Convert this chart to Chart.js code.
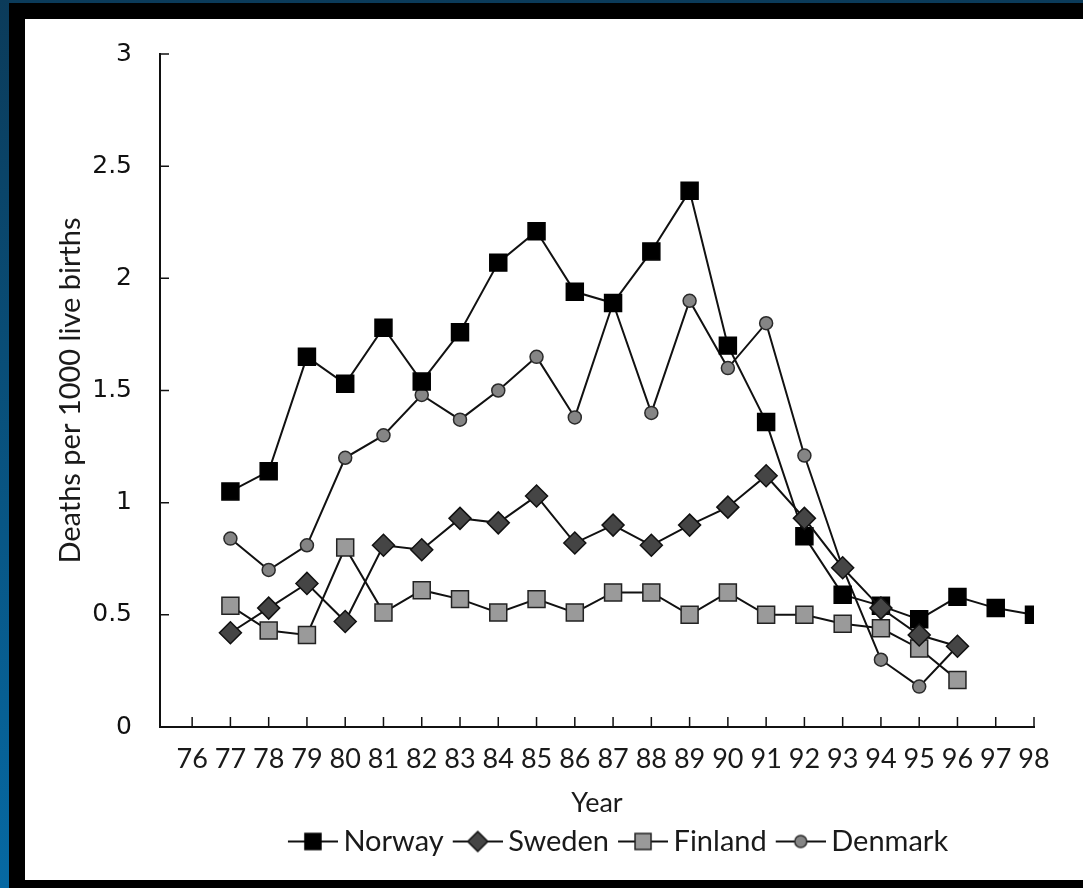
<!DOCTYPE html>
<html lang="en">
<head>
<meta charset="UTF-8">
<title>Deaths per 1000 live births</title>
<style>
  html, body { margin: 0; padding: 0; }
  body { width: 1083px; height: 888px; position: relative; overflow: hidden;
         background: linear-gradient(#0b3b5a, #0669a3); }
  #frame { position: absolute; left: 9px; top: 3px; width: 1074px; height: 885px; background: #000; }
  #paper { position: absolute; left: 25px; top: 19px; width: 1058px; height: 861px; background: #fff; }
</style>
</head>
<body>
<div id="frame"></div>
<div id="paper"><canvas id="myChart" width="1058" height="861"></canvas></div>

<script src="https://cdn.jsdelivr.net/npm/chart.js"></script>
<script>
// years 1976..1998, shown as two digits
const years = [76, 77, 78, 79, 80, 81, 82, 83, 84, 85, 86, 87, 88, 89, 90, 91, 92, 93, 94, 95, 96, 97, 98];
const yTicks = [0, 0.5, 1, 1.5, 2, 2.5, 3];

const norway  = [null, 1.05, 1.14, 1.65, 1.53, 1.78, 1.54, 1.76, 2.07, 2.21, 1.94, 1.89, 2.12, 2.39, 1.70, 1.36, 0.85, 0.59, 0.54, 0.48, 0.58, 0.53, 0.50];
const sweden  = [null, 0.42, 0.53, 0.64, 0.47, 0.81, 0.79, 0.93, 0.91, 1.03, 0.82, 0.90, 0.81, 0.90, 0.98, 1.12, 0.93, 0.71, 0.53, 0.41, 0.36, null, null];
const finland = [null, 0.54, 0.43, 0.41, 0.80, 0.51, 0.61, 0.57, 0.51, 0.57, 0.51, 0.60, 0.60, 0.50, 0.60, 0.50, 0.50, 0.46, 0.44, 0.35, 0.21, null, null];
const denmark = [null, 0.84, 0.70, 0.81, 1.20, 1.30, 1.48, 1.37, 1.50, 1.65, 1.38, 1.89, 1.40, 1.90, 1.60, 1.80, 1.21, 0.71, 0.30, 0.18, 0.36, null, null];

const seriesNames = ['Norway', 'Sweden', 'Finland', 'Denmark'];

function pts(arr) {
    return years.map((yr, i) => ({ x: yr, y: arr[i] })).filter(p => p.y !== null);
}

const styles = {
    Norway:  { shape: 'rect',    r: 12,  fill: '#000000', border: '#000000' },
    Sweden:  { shape: 'rectRot', r: 11,  fill: '#454545', border: '#111111' },
    Finland: { shape: 'rect',    r: 12,  fill: '#9a9a9a', border: '#222222' },
    Denmark: { shape: 'circle',  r: 6.5, fill: '#858585', border: '#2a2a2a' }
};

// legend symbol: a short line with the marker on it (blank strip on the left = gap between items)
function legendIcon(name) {
    const s = styles[name];
    const c = document.createElement('canvas');
    c.width = 60; c.height = 26;
    const g = c.getContext('2d');
    g.strokeStyle = '#111'; g.lineWidth = 2;
    g.beginPath(); g.moveTo(10, 13); g.lineTo(60, 13); g.stroke();
    g.fillStyle = s.fill; g.strokeStyle = s.border; g.lineWidth = 1.5;
    g.beginPath();
    if (s.shape === 'rect') g.rect(27, 5, 16, 16);
    else if (s.shape === 'rectRot') { g.moveTo(35, 3); g.lineTo(45, 13); g.lineTo(35, 23); g.lineTo(25, 13); g.closePath(); }
    else g.arc(35, 13, 6, 0, Math.PI * 2);
    g.fill(); g.stroke();
    return c;
}

const datasets = seriesNames.map((name, i) => {
    const s = styles[name];
    return {
        label: name,
        data: pts([norway, sweden, finland, denmark][i]),
        borderColor: '#111111',
        borderWidth: 2,
        pointStyle: s.shape,
        pointRadius: s.r,
        pointBackgroundColor: s.fill,
        pointBorderColor: s.border,
        pointBorderWidth: 1.5,
        order: { Sweden: 0, Norway: 1, Finland: 2, Denmark: 3 }[name]
    };
});

const innerTicks = {
    id: 'innerTicks',
    beforeDatasetsDraw(chart) {
        const { ctx, chartArea: a, scales: { x, y } } = chart;
        ctx.save();
        ctx.strokeStyle = '#111';
        ctx.lineWidth = 1.5;
        ctx.beginPath();
        x.ticks.forEach(t => {
            const px = x.getPixelForValue(t.value);
            ctx.moveTo(px, a.bottom); ctx.lineTo(px, a.bottom - 10);
        });
        y.ticks.forEach(t => {
            const py = y.getPixelForValue(t.value);
            ctx.moveTo(a.left, py); ctx.lineTo(a.left + 9, py);
        });
        ctx.stroke();
        ctx.restore();
    }
};

// the legend sits a bit right of the canvas centre in the original
const legendShift = {
    id: 'legendShift',
    afterLayout(chart) {
        chart.legend.left += 88;
        chart.legend.right += 88;
    }
};

new Chart(document.getElementById('myChart'), {
    type: 'line',
    data: { datasets: datasets },
    options: {
        responsive: false,
        animation: false,
        layout: { padding: { top: 33, right: 49, bottom: 14, left: 0 } },
        scales: {
            x: {
                type: 'linear',
                min: 75.16, max: 98,
                afterBuildTicks: scale => { scale.ticks = years.map(v => ({ value: v })); },
                afterFit: scale => { scale.height = 92; },
                grid: { display: false },
                border: { display: true, color: '#111', width: 2 },
                ticks: { color: '#1a1a1a', padding: 8, maxRotation: 0, autoSkip: false,
                         font: { family: 'Lato', size: 27 }, callback: v => String(v) },
                title: { display: true, text: 'Year', color: '#1a1a1a', padding: { top: 4, bottom: 0 },
                         font: { family: 'Lato', size: 27 } }
            },
            y: {
                min: 0, max: 3,
                afterBuildTicks: scale => { scale.ticks = yTicks.map(v => ({ value: v })); },
                afterFit: scale => { scale.width = 135; },
                grid: { display: false },
                border: { display: true, color: '#111', width: 2 },
                ticks: { color: '#111', padding: 20, font: { family: 'DejaVu Sans', size: 25 },
                         callback: v => String(v) },
                title: { display: true, text: 'Deaths per 1000 live births', color: '#1a1a1a',
                         padding: { top: 28, bottom: 0 }, font: { family: 'Lato', size: 29 } }
            }
        },
        plugins: {
            tooltip: { enabled: false },
            legend: {
                position: 'bottom',
                labels: {
                    usePointStyle: true,
                    pointStyleWidth: 42,
                    padding: 8,
                    color: '#1a1a1a',
                    font: { family: 'Lato', size: 29 },
                    generateLabels: () => seriesNames.map((name, i) => ({
                        text: name,
                        pointStyle: legendIcon(name),
                        fillStyle: 'transparent',
                        strokeStyle: 'transparent',
                        lineWidth: 0,
                        fontColor: '#1a1a1a',
                        datasetIndex: i
                    }))
                }
            }
        }
    },
    plugins: [innerTicks, legendShift]
});
</script>
</body>
</html>
